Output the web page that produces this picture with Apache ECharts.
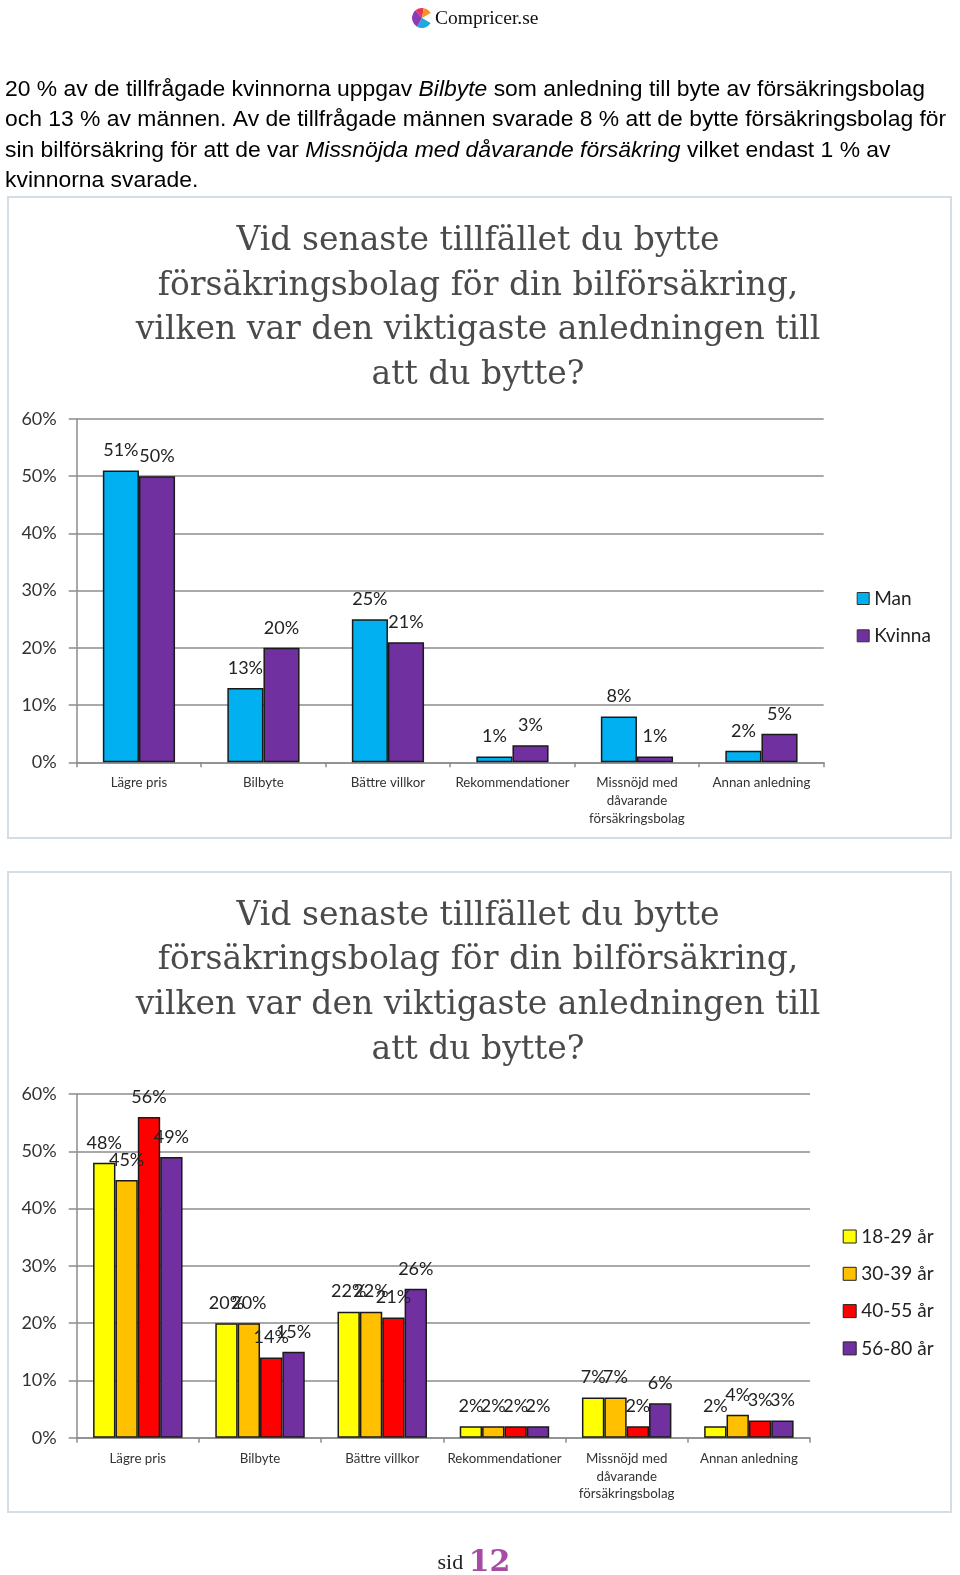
<!DOCTYPE html>
<html>
<head>
<meta charset="utf-8">
<script src="https://cdn.jsdelivr.net/npm/echarts@6/dist/echarts.min.js"></script>
<style>
  html, body { margin: 0; padding: 0; background: #fff; }
  #page { width: 960px; height: 1575px; }
</style>
</head>
<body>
<div id="page"></div>
<script>
// ---- data ----
const categories = ['Lägre pris', 'Bilbyte', 'Bättre villkor', 'Rekommendationer', 'Missnöjd med\ndåvarande\nförsäkringsbolag', 'Annan anledning'];
const yTickValues = [0, 10, 20, 30, 40, 50, 60];
const genderNames = ['Man', 'Kvinna'];
const manValues = [51, 13, 25, 1, 8, 2];
const kvinnaValues = [50, 20, 21, 3, 1, 5];
const ageNames = ['18-29 år', '30-39 år', '40-55 år', '56-80 år'];
const age1829Values = [48, 20, 22, 2, 7, 2];
const age3039Values = [45, 20, 22, 2, 7, 4];
const age4055Values = [56, 14, 21, 2, 2, 3];
const age5680Values = [49, 15, 26, 2, 6, 3];
const chartTitleLines = ['Vid senaste tillfället du bytte', 'försäkringsbolag för din bilförsäkring,', 'vilken var den viktigaste anledningen till', 'att du bytte?'];
const paragraphLines = [
  '20 % av de tillfrågade kvinnorna uppgav {i|Bilbyte} som anledning till byte av försäkringsbolag',
  'och 13 % av männen. Av de tillfrågade männen svarade 8 % att de bytte försäkringsbolag för',
  'sin bilförsäkring för att de var {i|Missnöjda med dåvarande försäkring} vilket endast 1 % av',
  'kvinnorna svarade.'
];

// ---- styles ----
const LBL_FONT = 'Lato, "Open Sans", sans-serif';
const GRID_COLOR = '#8c8c8c';
const colors1 = ['#00b0f0', '#7030a0'];
const colors2 = ['#ffff00', '#ffc000', '#ff0000', '#7030a0'];

const chart = echarts.init(document.getElementById('page'), null, { renderer: 'canvas' });

function xAxis(gridIndex) {
  return {
    type: 'category', gridIndex, data: categories,
    axisLine: { show: true, lineStyle: { color: GRID_COLOR, width: 1.5 } },
    axisTick: { show: true, length: 5, alignWithLabel: false, lineStyle: { color: GRID_COLOR, width: 1.5 } },
    axisLabel: { interval: 0, fontFamily: LBL_FONT, fontSize: 13.3, color: '#333', lineHeight: 17.7, margin: 12 }
  };
}
function yAxis(gridIndex) {
  return {
    type: 'value', gridIndex, min: yTickValues[0], max: yTickValues[yTickValues.length - 1], interval: 10,
    axisLine: { show: true, lineStyle: { color: GRID_COLOR, width: 1.5 } },
    axisTick: { show: true, length: 8, lineStyle: { color: GRID_COLOR, width: 1.5 } },
    splitLine: { show: true, lineStyle: { color: GRID_COLOR, width: 1.5 } },
    axisLabel: { fontFamily: LBL_FONT, fontSize: 18, color: '#333', margin: 20, formatter: '{value}%' }
  };
}
function barSeries(name, data, color, idx, catGap) {
  return {
    type: 'bar', name, data, xAxisIndex: idx, yAxisIndex: idx,
    barGap: '0%', barCategoryGap: catGap,
    itemStyle: { color, borderColor: '#1a1a1a', borderWidth: 1.5 },
    label: { show: true, position: 'top', distance: 11, formatter: '{c}%', fontFamily: LBL_FONT, fontSize: 18, color: '#222' },
    emphasis: { disabled: true }, animation: false
  };
}

const graphics = [];
// logo
const lx = 422, ly = 18, lr = 10;
const d2r = Math.PI / 180;
[[30, 120, '#1ea7e1'], [120, 230, '#8a3bb5'], [230, 280, '#e8335d'], [280, 330, '#f7941d']].forEach(s => {
  graphics.push({ type: 'sector', shape: { cx: lx, cy: ly, r: lr, r0: 0, startAngle: s[0] * d2r, endAngle: s[1] * d2r }, style: { fill: s[2] } });
});
graphics.push({ type: 'text', x: 435, y: 19, style: { text: 'Compricer.se', font: '19.5px "Liberation Serif", serif', fill: '#111', verticalAlign: 'middle', align: 'left' } });

// paragraph
const paraY = [90, 120, 151, 181];
paragraphLines.forEach((t, i) => {
  graphics.push({ type: 'text', x: 5, y: paraY[i], style: { text: t, font: '22.9px "Liberation Sans", Arial, sans-serif', fill: '#000', verticalAlign: 'middle', align: 'left',
    rich: { i: { fontStyle: 'italic', fontSize: 22.9, fontFamily: '"Liberation Sans", Arial, sans-serif', fill: '#000' } } } });
});

// boxes
graphics.push({ type: 'rect', shape: { x: 8, y: 197, width: 943, height: 641 }, style: { fill: 'none', stroke: '#d3dde7', lineWidth: 2 }, z: -1 });
graphics.push({ type: 'rect', shape: { x: 8, y: 872, width: 943, height: 640 }, style: { fill: 'none', stroke: '#d3dde7', lineWidth: 2 }, z: -1 });

// chart titles
const titleY1 = [241, 286, 330, 375];
const titleY2 = [916, 960, 1005, 1050];
[titleY1, titleY2].forEach(ys => {
  chartTitleLines.forEach((t, i) => {
    graphics.push({ type: 'text', x: 478, y: ys[i], style: { text: t, font: '33px "DejaVu Serif", serif', fill: '#4a4a4a', verticalAlign: 'middle', align: 'center' } });
  });
});

// page number
graphics.push({ type: 'text', x: 474, y: 1563, style: { text: '{a|sid }{b|12}', align: 'center', verticalAlign: 'middle',
  rich: { a: { fontSize: 22, fontFamily: '"Liberation Serif", serif', fill: '#222' }, b: { fontSize: 30, fontFamily: '"DejaVu Serif", serif', fill: '#a64ca6', fontWeight: 'bold' } } } });

const option = {
  backgroundColor: '#fff',
  animation: false,
  grid: [
    { left: 76.7, top: 419, width: 747, height: 343.3, containLabel: false },
    { left: 76.7, top: 1094, width: 733.3, height: 343.7, containLabel: false }
  ],
  xAxis: [xAxis(0), xAxis(1)],
  yAxis: [yAxis(0), yAxis(1)],
  legend: [
    { data: genderNames, orient: 'vertical', left: 851.7, top: 584, itemWidth: 12, itemHeight: 12, itemGap: 18.3, icon: 'rect',
      itemStyle: { borderColor: '#333', borderWidth: 1 }, textStyle: { fontFamily: LBL_FONT, fontSize: 19, color: '#222', lineHeight: 18 }, selectedMode: false },
    { data: ageNames, orient: 'vertical', left: 837.7, top: 1222, itemWidth: 13, itemHeight: 13, itemGap: 18.3, icon: 'rect',
      itemStyle: { borderColor: '#222', borderWidth: 1 }, textStyle: { fontFamily: LBL_FONT, fontSize: 19, color: '#222', lineHeight: 18 }, selectedMode: false }
  ],
  series: [
    barSeries(genderNames[0], manValues, colors1[0], 0, '42%'),
    barSeries(genderNames[1], kvinnaValues, colors1[1], 0, '42%'),
    barSeries(ageNames[0], age1829Values, colors2[0], 1, '26.8%'),
    barSeries(ageNames[1], age3039Values, colors2[1], 1, '26.8%'),
    barSeries(ageNames[2], age4055Values, colors2[2], 1, '26.8%'),
    barSeries(ageNames[3], age5680Values, colors2[3], 1, '26.8%')
  ],
  graphic: { elements: graphics }
};
chart.setOption(option);
</script>
</body>
</html>
